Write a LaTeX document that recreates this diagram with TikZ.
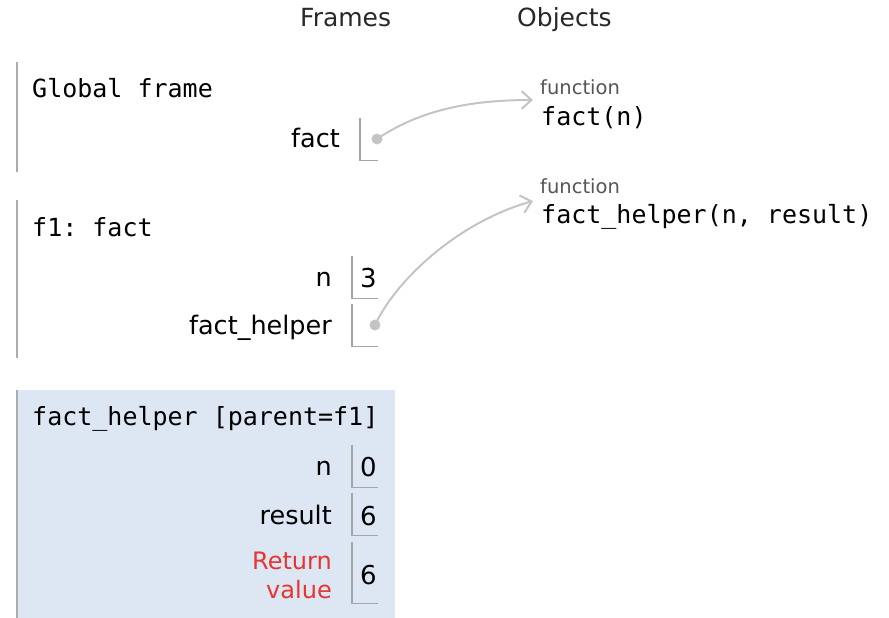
\documentclass[tikz,border=0pt]{standalone}
\usepackage{fontspec}
\setmainfont{DejaVu Sans}
\setmonofont{DejaVu Sans Mono}
\usetikzlibrary{arrows.meta}

\definecolor{framegray}{RGB}{172,172,172}
\definecolor{cellgray}{RGB}{165,165,165}
\definecolor{ptrgray}{RGB}{196,196,196}
\definecolor{heapblue}{RGB}{221,231,243}
\definecolor{retred}{RGB}{230,52,46}
\definecolor{typegray}{RGB}{85,85,85}
\definecolor{headtext}{RGB}{40,40,40}

\begin{document}
\begin{tikzpicture}[x=1pt,y=-1pt,
  header/.style={font=\fontsize{25}{30}\selectfont, text=headtext, anchor=base west, inner sep=0pt},
  framename/.style={font=\ttfamily\fontsize{25}{30}\selectfont, anchor=base west, inner sep=0pt},
  varname/.style={font=\fontsize{25.5}{30}\selectfont, anchor=base east, inner sep=0pt},
  retname/.style={font=\fontsize{24}{29}\selectfont, text=retred, align=right, anchor=east, inner sep=0pt},
  value/.style={font=\fontsize{26}{30}\selectfont, anchor=base west, inner sep=0pt},
  typelabel/.style={font=\fontsize{19.5}{24}\selectfont, text=typegray, anchor=base west, inner sep=0pt},
  funcname/.style={font=\ttfamily\fontsize{25}{30}\selectfont, anchor=base west, inner sep=0pt},
  cell/.style={draw=none, minimum width=26pt, minimum height=42pt, inner sep=0pt},
  cellline/.style={draw=cellgray, line width=1.4pt},
  frameline/.style={draw=framegray, line width=2pt},
  ptrdot/.style={circle, fill=ptrgray, minimum size=11pt, inner sep=0pt},
  pointer/.style={draw=ptrgray, line width=2pt, -{Straight Barb[length=10pt, width=18pt, line width=2pt]}}
]
\useasboundingbox (0,0) rectangle (889,618);

% column headers
\node[header] (hframes) at (300,27) {Frames};
\node[header] (hobjects) at (517,27) {Objects};

% ---------- Global frame ----------
\draw[frameline] (17,62) -- (17,172);
\node[framename] (gname) at (32,97) {Global frame};
\node[varname] (gfact) at (340,147) {fact};
\node[cell, minimum width=18pt] (gfactcell) at (369,139) {};
\draw[cellline] (gfactcell.north west) |- (gfactcell.south east);
\node[ptrdot] (gfactdot) at (377,139) {};

% ---------- f1: fact ----------
\draw[frameline] (17,200) -- (17,358);
\node[framename] (f1name) at (32,236) {f1: fact};
\node[varname] (f1n) at (332,286) {n};
\node[cell] (f1ncell) at (365,277) {};
\draw[cellline] (f1ncell.north west) |- (f1ncell.south east);
\node[value] (f1nval) at (360,287) {3};
\node[varname] (f1fh) at (332,334) {fact\_helper};
\node[cell] (f1fhcell) at (365,325) {};
\draw[cellline] (f1fhcell.north west) |- (f1fhcell.south east);
\node[ptrdot] (f1fhdot) at (375,325) {};

% ---------- fact_helper [parent=f1] (active frame) ----------
\fill[heapblue] (17,390) rectangle (395,618);
\draw[frameline] (17,390) -- (17,618);
\node[framename] (fhname) at (32,425) {fact\_helper [parent=f1]};
\node[varname] (fhn) at (332,475) {n};
\node[cell] (fhncell) at (365,466) {};
\draw[cellline] (fhncell.north west) |- (fhncell.south east);
\node[value] (fhnval) at (360,476) {0};
\node[varname] (fhres) at (332,524) {result};
\node[cell] (fhrescell) at (365,514) {};
\draw[cellline] (fhrescell.north west) |- (fhrescell.south east);
\node[value] (fhresval) at (360,525) {6};
\node[retname] (fhret) at (332,575) {Return\\value};
\node[cell, minimum height=61pt] (fhretcell) at (365,572.5) {};
\draw[cellline] (fhretcell.north west) |- (fhretcell.south east);
\node[value] (fhretval) at (360,584) {6};

% ---------- heap objects ----------
\node[typelabel] (ftype1) at (540,95) {function};
\node[funcname] (fobj1) at (541,125) {fact(n)};
\coordinate (fin1) at (533,100);

\node[typelabel] (ftype2) at (540,193) {function};
\node[funcname] (fobj2) at (541,223) {fact\_helper(n, result)};
\coordinate (fin2) at (533,201);

% ---------- pointers ----------
\draw[pointer] (gfactdot.center) .. controls (420,110) and (470,100) .. (fin1);
\draw[pointer] (f1fhdot.center) .. controls (396,280) and (458,222) .. (fin2);
\end{tikzpicture}
\end{document}
